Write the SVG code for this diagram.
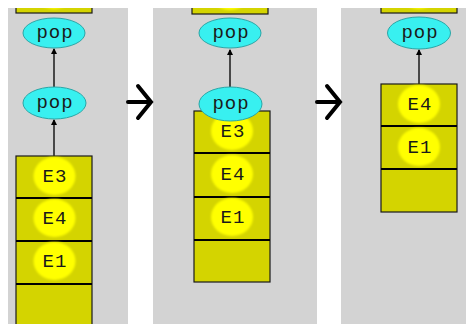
<svg xmlns="http://www.w3.org/2000/svg" width="466" height="324" viewBox="0 0 466 324">
<style>
.panel{fill:#d3d3d3}
.box{fill:#d4d400;stroke:#1a1a1a;stroke-width:1.2}
.div{stroke:#000;stroke-width:2.2}
.dot{fill:#ffff00;filter:url(#soft)}
.pop{fill:#38f0f0;stroke:#2aa6a6;stroke-width:1}
.lbl{font-family:"Liberation Mono","DejaVu Sans Mono",monospace;font-size:19px;fill:#1a1a1a;text-anchor:middle;letter-spacing:1px}
.el{font-family:"Liberation Mono","DejaVu Sans Mono",monospace;font-size:19px;fill:#1a1a1a;text-anchor:middle;letter-spacing:1px}
.edge{stroke:#1a1a1a;stroke-width:1.5;fill:none;marker-end:url(#ah)}
.step{stroke:#000;stroke-width:4;fill:none;stroke-linecap:round;stroke-linejoin:miter}
</style>
<defs>
<filter id="soft" x="-20%" y="-20%" width="140%" height="140%"><feGaussianBlur stdDeviation="0.8"/></filter>
<marker id="ah" viewBox="0 0 6 6" refX="5" refY="3" markerWidth="4" markerHeight="4" orient="auto"><path d="M0,0 L6,3 L0,6 z" fill="#000"/></marker>
<clipPath id="clip"><rect x="0" y="8" width="466" height="316"/></clipPath>
</defs>
<rect width="466" height="324" fill="#fff"/>
<rect class="panel" x="8" y="8" width="120" height="316"/>
<rect class="panel" x="153" y="8" width="164" height="316"/>
<rect class="panel" x="341" y="8" width="125" height="316"/>

<g id="steps">
<path class="step" d="M128,102 H151 M138,86 L151,102 L138,118"/>
<path class="step" d="M317,102 H340 M327,86 L340,102 L327,118"/>
</g>

<g clip-path="url(#clip)">
<g id="top1"><rect class="box" x="16" y="-30" width="76" height="43"/><ellipse class="dot" cx="54" cy="-10" rx="21" ry="19"/></g>
<g id="top2"><rect class="box" x="192" y="-30" width="76" height="44"/><ellipse class="dot" cx="230" cy="-9" rx="21" ry="19"/></g>
<g id="top3"><rect class="box" x="381" y="-30" width="76" height="43"/><ellipse class="dot" cx="419" cy="-10" rx="21" ry="19"/></g>
</g>

<g id="connectors">
<line class="edge" x1="54" y1="156" x2="54" y2="120"/>
<line class="edge" x1="54" y1="87" x2="54" y2="49"/>
<line class="edge" x1="230" y1="87" x2="230" y2="50"/>
<line class="edge" x1="419" y1="84" x2="419" y2="50"/>
</g>

<g id="stack1">
<rect class="box" x="16" y="156" width="76" height="180"/>
<line class="div" x1="16" y1="198" x2="92" y2="198"/>
<line class="div" x1="16" y1="241" x2="92" y2="241"/>
<line class="div" x1="16" y1="284" x2="92" y2="284"/>
<ellipse class="dot" cx="54.5" cy="176" rx="21" ry="19"/>
<ellipse class="dot" cx="54.5" cy="218" rx="21" ry="19"/>
<ellipse class="dot" cx="54.5" cy="261" rx="21" ry="19"/>
<text class="el" x="55" y="182">E3</text>
<text class="el" x="55" y="224">E4</text>
<text class="el" x="55" y="267">E1</text>
</g>

<g id="pop1a"><ellipse class="pop" cx="54" cy="33" rx="31" ry="15"/><text class="lbl" x="55" y="38">pop</text></g>
<g id="pop1b"><ellipse class="pop" cx="54.5" cy="103" rx="31.5" ry="16"/><text class="lbl" x="55" y="108">pop</text></g>

<g id="stack2">
<rect class="box" x="194" y="111" width="76" height="171"/>
<line class="div" x1="194" y1="153" x2="270" y2="153"/>
<line class="div" x1="194" y1="197" x2="270" y2="197"/>
<line class="div" x1="194" y1="240" x2="270" y2="240"/>
<ellipse class="dot" cx="232" cy="131" rx="21" ry="19"/>
<ellipse class="dot" cx="232" cy="174" rx="21" ry="19"/>
<ellipse class="dot" cx="232" cy="217" rx="21" ry="19"/>
<text class="el" x="233" y="137">E3</text>
<text class="el" x="233" y="180">E4</text>
<text class="el" x="233" y="223">E1</text>
</g>

<g id="pop2a"><ellipse class="pop" cx="230" cy="33" rx="31" ry="15"/><text class="lbl" x="231" y="38">pop</text></g>
<g id="pop2b"><ellipse class="pop" cx="230.5" cy="104" rx="31.5" ry="17"/><text class="lbl" x="231" y="109">pop</text></g>

<g id="stack3">
<rect class="box" x="381" y="84" width="76" height="128"/>
<line class="div" x1="381" y1="126" x2="457" y2="126"/>
<line class="div" x1="381" y1="169" x2="457" y2="169"/>
<ellipse class="dot" cx="419" cy="104" rx="21" ry="19"/>
<ellipse class="dot" cx="419" cy="147" rx="21" ry="19"/>
<text class="el" x="420" y="110">E4</text>
<text class="el" x="420" y="153">E1</text>
</g>

<g id="pop3"><ellipse class="pop" cx="419" cy="33" rx="31.5" ry="16"/><text class="lbl" x="420" y="38">pop</text></g>
</svg>
